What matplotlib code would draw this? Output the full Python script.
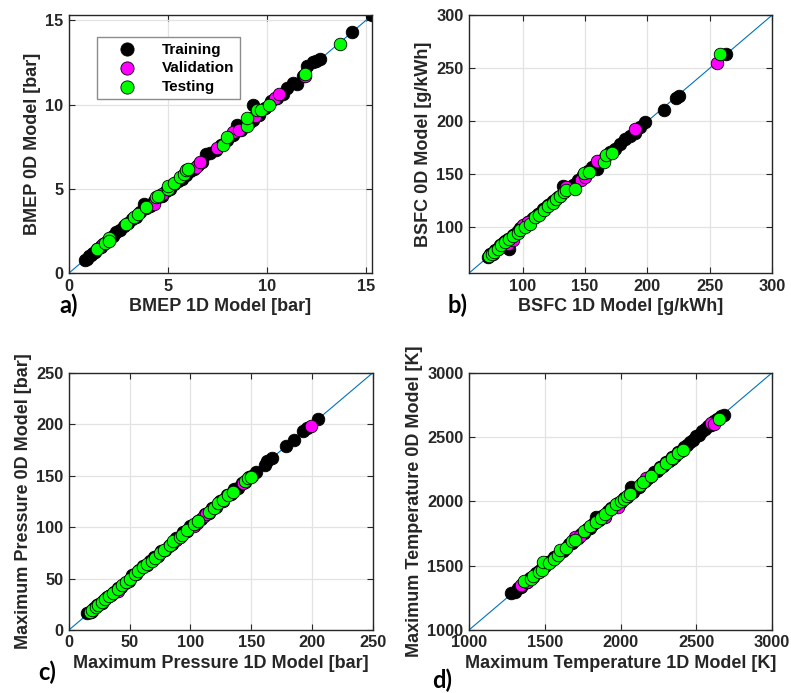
import matplotlib.pyplot as plt

# --- panel a: BMEP [bar] ---
bmep_tr_x = [0.8, 0.9, 1.0, 1.1, 1.2, 1.3, 1.4, 1.6, 1.8, 2.0, 2.2, 2.4, 2.6, 2.8, 3.0, 3.2, 3.4, 3.6,
             3.8, 3.9, 4.1, 4.3, 4.5, 4.7, 4.9, 5.1, 5.3, 5.5, 5.7, 5.9, 6.1, 6.3, 6.5, 6.7, 6.9, 7.1,
             7.4, 7.7, 8.0, 8.3, 8.5, 8.7, 8.9, 9.1, 9.3, 9.3, 9.6, 9.9, 10.2, 10.5, 10.8, 11.0, 11.3,
             11.5, 11.8, 12.0, 12.3, 12.5, 12.7, 14.3, 15.3]
bmep_tr_y = [0.8, 0.85, 1.0, 1.05, 1.2, 1.25, 1.4, 1.55, 1.8, 1.95, 2.2, 2.45, 2.55, 2.8, 2.95, 3.2, 3.35, 3.6,
             4.1, 3.85, 4.0, 4.25, 4.5, 4.6, 4.85, 5.0, 5.3, 5.45, 5.6, 5.8, 6.05, 6.2, 6.4, 6.6, 7.05, 7.15,
             7.3, 7.6, 7.9, 8.2, 8.8, 8.5, 8.8, 8.9, 10.0, 9.1, 9.4, 9.8, 10.2, 10.4, 10.6, 11.0, 11.3,
             11.2, 11.7, 12.3, 12.5, 12.6, 12.7, 14.3, 15.3]
bmep_va_x = [1.6, 1.7, 4.3, 4.7, 5.0, 6.4, 6.6, 7.5, 8.3, 8.6, 9.4, 10.4, 10.6, 11.9]
bmep_va_y = [1.6, 1.7, 4.1, 4.7, 5.0, 6.3, 6.6, 7.4, 8.4, 8.5, 9.3, 10.4, 10.6, 11.7]
bmep_te_x = [1.4, 1.8, 2.0, 2.0, 2.9, 3.3, 3.5, 3.9, 4.4, 4.5, 5.0, 5.0, 5.3, 5.6, 5.8, 5.9, 6.0,
             7.8, 8.0, 9.0, 9.0, 9.5, 9.7, 10.1, 11.9, 13.7]
bmep_te_y = [1.4, 1.8, 2.1, 1.9, 2.9, 3.35, 3.5, 3.9, 4.5, 4.6, 5.0, 5.15, 5.35, 5.7, 5.9, 6.1, 6.2,
             7.6, 8.1, 8.7, 9.2, 9.7, 9.7, 10.0, 11.8, 13.6]

# --- panel b: BSFC [g/kWh] ---
bsfc_tr_x = [72, 74, 76, 78, 80, 82, 84, 86, 88, 89, 92, 94, 96, 98, 100, 102, 104, 106, 108, 110,
             112, 114, 116, 118, 120, 122, 124, 126, 128, 130, 132, 134, 136, 140, 144, 148, 152, 156,
             160, 162, 166, 170, 174, 178, 182, 186, 190, 194, 198, 213, 223, 225, 263]
bsfc_tr_y = [72, 75, 76, 79, 80, 83, 85, 87, 89, 80, 93, 94, 97, 99, 101, 102, 105, 106, 109, 110,
             113, 114, 117, 118, 121, 122, 125, 126, 129, 130, 139, 135, 137, 140, 145, 149, 153, 157,
             155, 163, 166, 171, 174, 179, 183, 186, 189, 195, 199, 211, 222, 224, 263]
bsfc_va_x = [76, 88, 92, 100, 104, 135, 147, 150, 160, 190, 256]
bsfc_va_y = [75, 84, 88, 102, 105, 138, 145, 148, 163, 193, 255]
bsfc_te_x = [73, 75, 77, 80, 83, 86, 89, 92, 96, 98, 102, 106, 110, 113, 117, 120, 124, 127, 130,
             133, 135, 142, 149, 153, 165, 167, 172, 258]
bsfc_te_y = [73, 75, 77, 80, 83, 86, 89, 92, 95, 98, 100, 103, 110, 112, 116, 120, 123, 127, 130,
             133, 135, 136, 151, 152, 162, 168, 170, 263]

# --- panel c: maximum pressure [bar] ---
pmax_tr_x = [15, 17, 19, 21, 23, 25, 27, 29, 31, 33, 35, 37, 40, 43, 46, 49, 52, 55, 58, 61, 64, 67,
             70, 73, 76, 79, 82, 85, 88, 91, 94, 97, 100, 103, 106, 109, 112, 115, 118, 121, 124, 127,
             130, 133, 136, 139, 142, 145, 148, 151, 154, 161, 163, 167, 179, 185, 193, 196, 205]
pmax_tr_y = [16, 17, 18, 21, 24, 25, 26, 29, 32, 33, 34, 37, 41, 42, 46, 48, 53, 54, 58, 62, 63, 67,
             71, 72, 77, 78, 82, 84, 89, 90, 95, 96, 101, 102, 106, 108, 113, 114, 119, 120, 125, 126,
             131, 132, 137, 138, 143, 144, 149, 150, 154, 160, 164, 167, 179, 185, 193, 196, 205]
pmax_va_x = [18, 40, 88, 103, 105, 111, 113, 118, 127, 143, 199]
pmax_va_y = [17, 38, 87, 101, 104, 111, 113, 118, 125, 143, 198]
pmax_te_x = [17, 19, 22, 24, 27, 30, 33, 36, 40, 44, 47, 50, 54, 57, 61, 64, 68, 71, 75, 78, 83, 86,
             91, 93, 97, 103, 106, 115, 119, 123, 127, 131, 135, 145, 147, 150]
pmax_te_y = [17, 19, 22, 24, 27, 30, 33, 36, 40, 44, 47, 50, 54, 57, 61, 64, 67, 70, 75, 78, 83, 86,
             90, 92, 97, 103, 106, 115, 119, 123, 126, 131, 134, 145, 148, 149]

# --- panel d: maximum temperature [K] ---
tmax_tr_x = [1280, 1300, 1320, 1340, 1360, 1380, 1400, 1420, 1440, 1460, 1480, 1500, 1520, 1540,
             1560, 1580, 1600, 1620, 1640, 1660, 1680, 1700, 1720, 1740, 1760, 1780, 1800, 1820,
             1840, 1860, 1880, 1900, 1920, 1940, 1960, 1980, 2000, 2020, 2040, 2060, 2070, 2080,
             2100, 2120, 2140, 2160, 2180, 2200, 2220, 2240, 2260, 2280, 2300, 2320, 2340, 2360,
             2380, 2400, 2420, 2440, 2460, 2480, 2500, 2520, 2540, 2560, 2580, 2600, 2620, 2640,
             2660, 2680]
tmax_tr_y = [1285, 1295, 1325, 1335, 1365, 1375, 1405, 1415, 1445, 1455, 1485, 1495, 1525, 1535,
             1565, 1575, 1605, 1615, 1635, 1665, 1675, 1705, 1715, 1745, 1755, 1785, 1795, 1825,
             1880, 1855, 1885, 1895, 1925, 1950, 1955, 1985, 1995, 2025, 2035, 2065, 2110, 2075,
             2105, 2115, 2145, 2155, 2185, 2195, 2225, 2235, 2265, 2275, 2305, 2315, 2345, 2355,
             2385, 2395, 2425, 2435, 2465, 2475, 2505, 2515, 2545, 2560, 2585, 2595, 2625, 2640,
             2665, 2675]
tmax_va_x = [1340, 1380, 1490, 1700, 1730, 1900, 1980, 2170, 2340, 2600, 2620]
tmax_va_y = [1350, 1370, 1480, 1720, 1730, 1880, 1960, 2180, 2330, 2610, 2600]
tmax_te_x = [1360, 1410, 1420, 1460, 1480, 1490, 1530, 1560, 1590, 1600, 1640, 1680, 1700, 1760,
             1800, 1840, 1870, 1900, 1940, 1970, 2000, 2020, 2040, 2060, 2130, 2150, 2200, 2260,
             2300, 2340, 2380, 2410, 2650]
tmax_te_y = [1380, 1400, 1420, 1450, 1470, 1530, 1520, 1550, 1580, 1620, 1640, 1690, 1700, 1770,
             1810, 1840, 1870, 1900, 1940, 1980, 2000, 2020, 2040, 2060, 2130, 2150, 2200, 2260,
             2300, 2340, 2380, 2400, 2640]

panels = [
    dict(tr=(bmep_tr_x, bmep_tr_y), va=(bmep_va_x, bmep_va_y), te=(bmep_te_x, bmep_te_y),
         lim=(0, 15.3), ticks=[0, 5, 10, 15],
         xlabel='BMEP 1D Model [bar]', ylabel='BMEP 0D Model [bar]', tag='a)'),
    dict(tr=(bsfc_tr_x, bsfc_tr_y), va=(bsfc_va_x, bsfc_va_y), te=(bsfc_te_x, bsfc_te_y),
         lim=(57, 300), ticks=[100, 150, 200, 250, 300],
         xlabel='BSFC 1D Model [g/kWh]', ylabel='BSFC 0D Model [g/kWh]', tag='b)'),
    dict(tr=(pmax_tr_x, pmax_tr_y), va=(pmax_va_x, pmax_va_y), te=(pmax_te_x, pmax_te_y),
         lim=(0, 250), ticks=[0, 50, 100, 150, 200, 250],
         xlabel='Maximum Pressure 1D Model [bar]', ylabel='Maximum Pressure 0D Model [bar]', tag='c)'),
    dict(tr=(tmax_tr_x, tmax_tr_y), va=(tmax_va_x, tmax_va_y), te=(tmax_te_x, tmax_te_y),
         lim=(1000, 3000), ticks=[1000, 1500, 2000, 2500, 3000],
         xlabel='Maximum Temperature 1D Model [K]', ylabel='Maximum Temperature 0D Model [K]', tag='d)'),
]

# axes rectangles (fig fraction) and tag positions (pixels)
rects = [[0.0872, 0.606, 0.383, 0.372], [0.593, 0.606, 0.383, 0.372],
         [0.0872, 0.091, 0.384, 0.371], [0.593, 0.091, 0.383, 0.371]]
tag_pos = [(59, 305), (447, 305), (38, 672), (432, 680)]

plt.rcParams['font.family'] = ['Liberation Sans', 'DejaVu Sans']
txt = '#262626'

fig = plt.figure(figsize=(7.91, 6.93), dpi=100)
for p, r, tp in zip(panels, rects, tag_pos):
    ax = fig.add_axes(r)
    lo, hi = p['lim']
    ax.plot([lo, hi], [lo, hi], color='#0072BD', lw=0.8, zorder=1)
    ax.scatter(*p['tr'], s=82, c='black', edgecolors='black', linewidths=0.6, label='Training', zorder=2)
    ax.scatter(*p['va'], s=82, c='#FF00FF', edgecolors='black', linewidths=0.6, label='Validation', zorder=3)
    ax.scatter(*p['te'], s=82, c='#00FF00', edgecolors='black', linewidths=0.6, label='Testing', zorder=4)
    ax.set_xlim(lo, hi)
    ax.set_ylim(lo, hi)
    ax.set_xticks(p['ticks'])
    ax.set_yticks(p['ticks'])
    ax.grid(True, color='#e3e3e3', lw=0.9)
    ax.set_axisbelow(True)
    ax.tick_params(direction='in', top=True, right=True, length=4, width=0.8,
                   labelsize=11.8, colors=txt, pad=4)
    for lab in ax.get_xticklabels() + ax.get_yticklabels():
        lab.set_fontweight('bold')
    for s in ax.spines.values():
        s.set_color(txt)
        s.set_linewidth(1.0)
    ax.set_xlabel(p['xlabel'], fontsize=13, fontweight='bold', color=txt, labelpad=3)
    ax.set_ylabel(p['ylabel'], fontsize=13, fontweight='bold', color=txt, labelpad=3)
    fig.text(tp[0] / 791, 1 - tp[1] / 693, p['tag'], fontsize=17, fontweight='bold',
             family=['Lato', 'DejaVu Sans'], va='center', ha='left')
    if p['tag'] == 'a)':
        leg = ax.legend(loc='upper left', bbox_to_anchor=(0.092, 0.915),
                        prop={'weight': 'bold', 'size': 11}, frameon=True, fancybox=False,
                        edgecolor='#8c8c8c', framealpha=1, handletextpad=0.6, borderpad=0.35,
                        labelspacing=0.3, handlelength=3.3, borderaxespad=0, markerscale=1.05)
        leg.get_frame().set_linewidth(1.0)

fig.savefig('out.png', dpi=100)
